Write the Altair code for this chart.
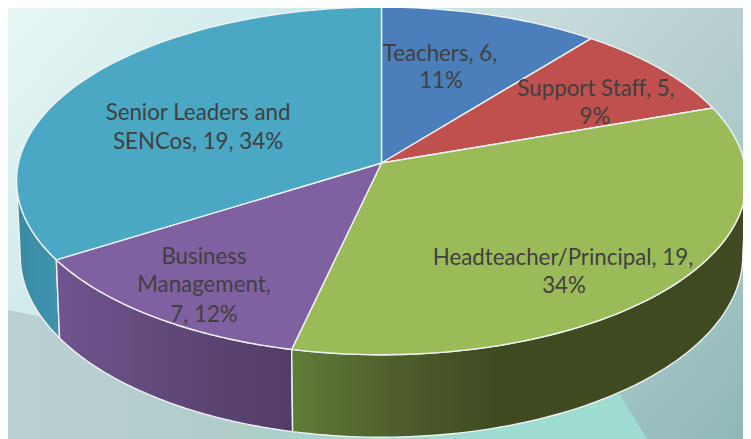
import math
import altair as alt
import pandas as pd

# --- chart values ---
categories = ["Teachers", "Support Staff", "Headteacher/Principal", "Business Management", "Senior Leaders and SENCos"]
values = [6, 5, 19, 7, 19]
percents = [11, 9, 34, 12, 34]
top_colors = ["#4b7fbb", "#bf504d", "#9bbb59", "#7f60a0", "#4aa8c4"]

# label lines, split as in the picture, with their anchor in the picture
label_lines = [
    "Teachers, 6,", "11%",
    "Support Staff, 5,", "9%",
    "Headteacher/Principal, 19,", "34%",
    "Business", "Management,", "7, 12%",
    "Senior Leaders and", "SENCos, 19, 34%",
]
label_x = [440, 441, 596, 595, 563, 564, 204, 204, 204, 198, 198]
label_y = [54, 81, 89, 117, 258, 286, 257, 285, 315, 113, 142]

# --- 3-D projection of the pie (perspective tilt) ---
CX, CY, RX, RY, K, DEPTH, SHRINK = 381.5, 163.0, 363.0, 172.0, 0.103, 74.0, 0.99
LEFT_TANGENT = 360 - math.degrees(math.acos(-K))
RIGHT_TANGENT = math.degrees(math.acos(-K))


def top(theta):
    t = math.radians(theta)
    u, v = math.sin(t), math.cos(t)
    w = 1 + K * v
    return CX + RX * u / w, CY - RY * v / w


def bottom(theta):
    t = math.radians(theta)
    u, v = math.sin(t), math.cos(t)
    w = 1 + K * v
    return CX + SHRINK * RX * u / w, CY - RY * v / w + DEPTH / w


def arc(fn, a, b, n=80):
    return [fn(a + (b - a) * i / n) for i in range(n + 1)]


total = sum(values)
edges = [0.0]
for v in values:
    edges.append(edges[-1] + 360.0 * v / total)

X = alt.X("x:Q", scale=alt.Scale(domain=[8, 743], nice=False, zero=False), axis=None)
Y = alt.Y("y:Q", scale=alt.Scale(domain=[439, 8], nice=False, zero=False), axis=None)


def poly(points, **mark):
    df = pd.DataFrame({"x": [p[0] for p in points], "y": [p[1] for p in points], "i": range(len(points))})
    return alt.Chart(df).mark_line(clip=True, strokeJoin="round", **mark).encode(x=X, y=Y, order=alt.Order("i:Q"))


def grad(stops, x1=0, y1=0, x2=1, y2=0):
    return alt.Gradient(
        gradient="linear", x1=x1, y1=y1, x2=x2, y2=y2,
        stops=[alt.GradientStop(offset=o, color=c) for o, c in stops],
    )


EDGE = "#eef3f2"
layers = []

# backdrop
layers.append(poly([(8, 8), (743, 8), (743, 439), (8, 439), (8, 8)],
                   fill=grad([(0, "#e8f6f5"), (0.233, "#d2ecec"), (0.5, "#c6dadb"), (0.667, "#b8cfcf"),
                              (0.817, "#a5c6c7"), (1, "#8fb8b7")], 0, 0, 1.2, 0.6),
                   strokeOpacity=0))
layers.append(poly([(8, 310), (60, 320), (620, 395), (647, 439), (8, 439), (8, 310)],
                   fill=grad([(0, "#bbd0d3"), (0.38, "#b0cdca"), (0.46, "#a6d4ce"), (0.75, "#9fdcd2"), (1, "#9fdcd2")]),
                   strokeOpacity=0))


# side walls
def wall(a, b, fill):
    pts = arc(top, a, b) + arc(bottom, b, a)
    pts.append(pts[0])
    return poly(pts, fill=fill, stroke=EDGE, strokeWidth=1.4)


layers.append(wall(edges[4], LEFT_TANGENT, grad([(0, "#3a8ba5"), (1, "#3f93ae")])))
layers.append(wall(edges[3], edges[4], grad([(0, "#705590"), (0.5, "#5f4778"), (1, "#533d66")])))
layers.append(wall(RIGHT_TANGENT, edges[3], grad([(0, "#617b38"), (0.22, "#4f5f2c"), (0.45, "#3f4a21"), (1, "#3f4a21")])))

# top faces
for i in range(len(values)):
    pts = [(CX, CY)] + arc(top, edges[i], edges[i + 1]) + [(CX, CY)]
    layers.append(poly(pts, fill=top_colors[i], stroke=EDGE, strokeWidth=1.4))

labels = pd.DataFrame({"t": label_lines, "x": label_x, "y": label_y})
layers.append(
    alt.Chart(labels)
    .mark_text(font="Lato", fontSize=22.3, color="#404040", align="center", baseline="middle")
    .encode(x=X, y=Y, text="t:N")
)

chart = (
    alt.layer(*layers)
    .properties(width=735, height=431, padding=0, autosize=alt.AutoSizeParams(type="none"))
    .configure_view(stroke=None)
)
chart.save("out.html", embed_options={"renderer": "svg", "actions": False})
